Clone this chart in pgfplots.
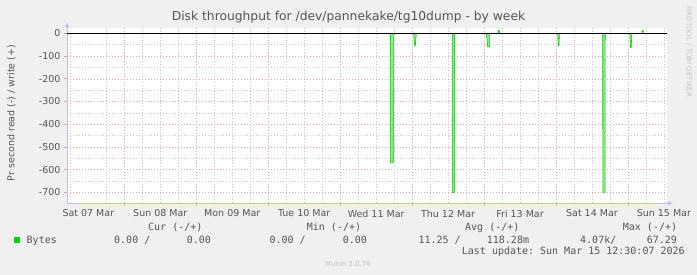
\documentclass[border=0pt]{standalone}
\usepackage{pgfplots}
\pgfplotsset{compat=1.18}
\usepackage{fontspec}
\setmainfont{DejaVu Sans}
\setmonofont{DejaVu Sans Mono}
\usetikzlibrary{arrows.meta}
\definecolor{bg}{HTML}{F0F0F0}
\definecolor{tc}{HTML}{555555}
\definecolor{grn}{HTML}{00CC00}
\definecolor{grnl}{HTML}{90E890}
\definecolor{majg}{HTML}{E8A0A0}
\definecolor{ming}{HTML}{C8C8C8}
\definecolor{axc}{HTML}{C0C0F0}
\definecolor{faint}{HTML}{C4C4C4}
\begin{document}
\begin{tikzpicture}[x=1pt,y=1pt]
\fill[bg] (0,0) rectangle (697,275);
\useasboundingbox (0,0) rectangle (697,275);
\node[text=tc, font=\fontsize{12.3}{14}\selectfont] at (348.5,258) {Disk throughput for /dev/pannekake/tg10dump - by week};
\node[text=tc, font=\fontsize{9.5}{11}\selectfont, rotate=90] at (11.5,162) {Pr second read (-) / write (+)};
\node[text=faint, font=\fontsize{7}{8}\selectfont, rotate=-90] at (689,223) {RRDTOOL / TOBI OETIKER};
\node[text=faint, font=\fontsize{7}{8}\selectfont] at (348,11) {Munin 2.0.76};
\begin{scope}[every node/.style={text=tc, font=\ttfamily\fontsize{10}{12}\selectfont, inner sep=0pt, anchor=west}]
\node at (148,47.3) {Cur (-/+)};
\node at (306.7,47.3) {Min (-/+)};
\node at (465,47.3) {Avg (-/+)};
\node at (622.7,47.3) {Max (-/+)};
\node at (114,35) {0.00 /};
\node at (186.7,35) {0.00};
\node at (269.3,35) {0.00 /};
\node at (342.7,35) {0.00};
\node at (418.3,35) {11.25 /};
\node at (486.7,35) {118.28m};
\node at (580,35) {4.07k/};
\node at (646.7,35) {67.29};
\node at (461.7,23.3) {Last update: Sun Mar 15 12:30:07 2026};
\end{scope}
\begin{axis}[
  at={(67pt,71.7pt)}, anchor=south west,
  scale only axis, width=600pt, height=175.2pt,
  xmin=0.203, xmax=8.543, ymin=-748, ymax=23.3,
  axis lines=left,
  axis line style={draw=axc, line width=0.9pt, -{Latex[length=5pt,width=5pt]}, shorten >=-6pt},
  axis background/.style={fill=white},
  tick align=outside,
  major tick length=3pt, minor tick length=0pt,
  tick style={draw=majg, line width=0.8pt},
  xtick={1,2,3,4,5,6,7,8}, xticklabels={},
  extra x ticks={0.5,1.5,2.5,3.5,4.5,5.5,6.5,7.5,8.5},
  extra x tick labels={Sat 07 Mar,Sun 08 Mar,Mon 09 Mar,Tue 10 Mar,Wed 11 Mar,Thu 12 Mar,Fri 13 Mar,Sat 14 Mar,Sun 15 Mar},
  extra x tick style={major tick length=0pt, grid=none},
  minor xtick={0.25,0.75,1.25,1.5,1.75,2.25,2.5,2.75,3.25,3.5,3.75,4.25,4.5,4.75,5.25,5.5,5.75,6.25,6.5,6.75,7.25,7.5,7.75,8.25,8.5},
  ytick={-700,-600,-500,-400,-300,-200,-100,0},
  yticklabels={-700,-600,-500,-400,-300,-200,-100,0},
  minor ytick={-650,-550,-450,-350,-250,-150,-50},
  xmajorgrids, ymajorgrids, xminorgrids, yminorgrids,
  major grid style={draw=majg, line width=0.6pt, dash pattern=on 1pt off 2pt},
  minor grid style={draw=ming, line width=0.6pt, dash pattern=on 1pt off 2pt},
  ticklabel style={font=\fontsize{9.5}{11}\selectfont, text=tc},
  xticklabel style={yshift=-3pt},
  legend style={at={(axis description cs:-0.0883,-0.2112)}, anchor=west, draw=none, fill=none, inner sep=0pt,
    font=\ttfamily\fontsize{10}{12}\selectfont, text=tc, legend cell align=left},
  legend image code/.code={\fill[grn, draw=none] (0pt,-3pt) rectangle (6pt,3pt); \path[draw=none, fill=none] (0pt,0pt) -- (10.5pt,0pt);},
  clip=false,
]
\addplot[draw=grn, fill=grnl, line width=0.6pt, line join=miter] coordinates {
(0.203,0)
(4.696,0)(4.697,-570)(4.738,-570)(4.739,0)
(5.021,0)(5.036,-55)(5.044,-55)(5.059,0)
(5.559,0)(5.560,-700)(5.592,-700)(5.593,0)
(6.032,0)(6.052,-59)(6.074,-59)(6.074,0)
(6.192,0)(6.198,13)(6.210,13)(6.216,0)
(7.024,0)(7.033,-55)(7.040,-55)(7.048,0)
(7.650,0)(7.651,-700)(7.683,-700)(7.684,0)
(8.026,0)(8.036,-62)(8.045,-62)(8.055,0)
(8.192,0)(8.199,14)(8.211,14)(8.216,0)
(8.543,0)
};
\addlegendentry{Bytes}
\addplot[black, line width=1.1pt, forget plot] coordinates {(0.203,0)(8.543,0)};
\end{axis}
\end{tikzpicture}
\end{document}
